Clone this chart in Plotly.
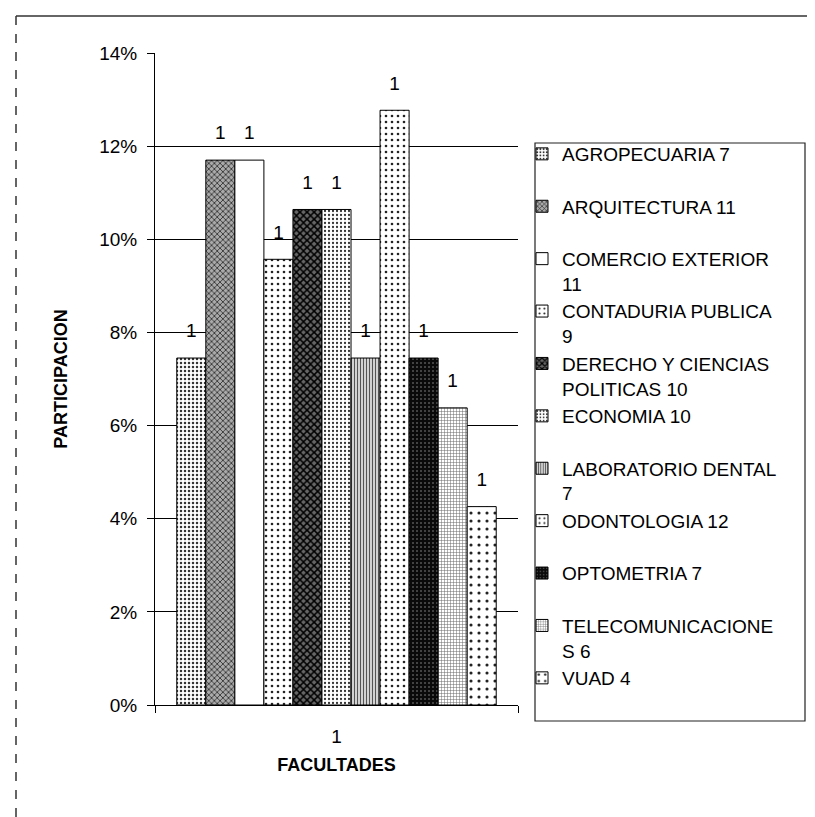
import plotly.graph_objects as go

# ---- data ----
categories = ["1"]
facultades = ["AGROPECUARIA", "ARQUITECTURA", "COMERCIO EXTERIOR", "CONTADURIA PUBLICA",
              "DERECHO Y CIENCIAS POLITICAS", "ECONOMIA", "LABORATORIO DENTAL",
              "ODONTOLOGIA", "OPTOMETRIA", "TELECOMUNICACIONES", "VUAD"]
counts = [7, 11, 11, 9, 10, 10, 7, 12, 7, 6, 4]
participacion = [0.0745, 0.1170, 0.1170, 0.0957, 0.1064, 0.1064, 0.0745, 0.1277, 0.0745, 0.0638, 0.0426]
legend_labels = ["AGROPECUARIA 7", "ARQUITECTURA 11", "COMERCIO EXTERIOR<br>11",
                 "CONTADURIA PUBLICA<br>9", "DERECHO Y CIENCIAS<br>POLITICAS 10", "ECONOMIA 10",
                 "LABORATORIO DENTAL<br>7", "ODONTOLOGIA 12", "OPTOMETRIA 7",
                 "TELECOMUNICACIONE<br>S 6", "VUAD 4"]
y_ticks = [0, 0.02, 0.04, 0.06, 0.08, 0.10, 0.12, 0.14]

# ---- styles (pattern fills imitating the print) ----
styles = [
    dict(shape=".", fg="#333", bg="white", size=4, solidity=0.3),    # agro
    dict(shape="x", fg="#222", bg="#aaa", size=4, solidity=0.35),    # arq
    dict(shape="", fg="#000", bg="white", size=8, solidity=0.2),     # comercio
    dict(shape=".", fg="#222", bg="white", size=6, solidity=0.15),   # contaduria
    dict(shape="x", fg="#000", bg="#666", size=5, solidity=0.5),     # derecho
    dict(shape=".", fg="#333", bg="white", size=4, solidity=0.25),   # economia
    dict(shape="|", fg="#555", bg="#e0e0e0", size=3, solidity=0.4),  # lab dental
    dict(shape=".", fg="#222", bg="white", size=6, solidity=0.15),   # odontologia
    dict(shape=".", fg="#555", bg="#0a0a0a", size=4, solidity=0.2),  # optometria
    dict(shape="+", fg="#666", bg="white", size=3, solidity=0.3),    # telecom
    dict(shape=".", fg="#222", bg="white", size=8, solidity=0.12),   # vuad
]

FONT = "Liberation Sans, Arial, sans-serif"
GAP = 0.12

# pixel geometry of the plot area (used only for layout placement)
L, R, T, B, W, H = 147, 305, 45, 120, 815, 817
PW, PH = W - L - R, H - T - B
def px_x(px):
    return (px - L) / PW
def px_y(py):
    return (H - B - py) / PH

fig = go.Figure()
for i, name in enumerate(facultades):
    st = styles[i]
    leg = "legend" if i == 0 else f"legend{i + 1}"
    fig.add_trace(go.Bar(
        x=categories, y=[participacion[i]], name=legend_labels[i],
        offsetgroup=str(i), legend=leg,
        marker=dict(color=st["bg"], line=dict(color="black", width=1),
                    pattern=dict(shape=st["shape"], fgcolor=st["fg"], bgcolor=st["bg"],
                                 size=st["size"], solidity=st["solidity"], fillmode="replace")),
        hoverinfo="skip",
    ))
for i, name in enumerate(facultades):
    # data label "1" (category name) above each bar
    fig.add_trace(go.Scatter(
        x=categories, y=[participacion[i]], mode="markers+text",
        offsetgroup=str(i), showlegend=False,
        text=categories, textposition="top center",
        textfont=dict(family=FONT, size=19, color="black"),
        marker=dict(size=24, opacity=0), cliponaxis=False, hoverinfo="skip",
    ))

layout_legends = {}
for i in range(len(facultades)):
    key = "legend" if i == 0 else f"legend{i + 1}"
    layout_legends[key] = dict(
        x=px_x(514), y=px_y(127 + i * 52.4), xanchor="left", yanchor="top",
        borderwidth=0, bgcolor="rgba(0,0,0,0)",
        font=dict(family=FONT, size=19, color="black"), valign="top")

fig.update_layout(
    width=W, height=H,
    margin=dict(l=L, r=R, t=T, b=B),
    paper_bgcolor="white", plot_bgcolor="white",
    barmode="group", bargap=GAP, bargroupgap=0,
    scattermode="group", scattergap=GAP,
    font=dict(family=FONT, color="black"),
    showlegend=True,
    xaxis=dict(type="category", showline=True, linecolor="black", linewidth=1,
               ticks="outside", tickson="boundaries", ticklen=7, tickcolor="black",
               tickfont=dict(family=FONT, size=19), ticklabelstandoff=14,
               showgrid=False,
               title=dict(text="<b>FACULTADES</b>", font=dict(family=FONT, size=18), standoff=12)),
    yaxis=dict(range=[0, 0.14], tickvals=y_ticks, tickformat=".0%",
               showline=True, linecolor="black", linewidth=1,
               ticks="outside", ticklen=7, tickcolor="black",
               tickfont=dict(family=FONT, size=19), ticklabelstandoff=6,
               showgrid=True, gridcolor="black", gridwidth=1, zeroline=False,
               title=dict(text="<b>PARTICIPACION</b>", font=dict(family=FONT, size=18), standoff=26)),
    shapes=[
        # chart-area frame
        dict(type="line", xref="paper", yref="paper", x0=px_x(8), x1=px_x(815), y0=px_y(8), y1=px_y(8),
             line=dict(color="#333", width=1.5)),
        dict(type="line", xref="paper", yref="paper", x0=px_x(8), x1=px_x(8), y0=px_y(8), y1=px_y(817),
             line=dict(color="#333", width=1.5, dash="dash")),
        # legend frame
        dict(type="rect", xref="paper", yref="paper", x0=px_x(527), x1=px_x(797), y0=px_y(135), y1=px_y(713),
             line=dict(color="#222", width=1.2)),
    ],
    **layout_legends,
)

fig.write_html("out.html")
